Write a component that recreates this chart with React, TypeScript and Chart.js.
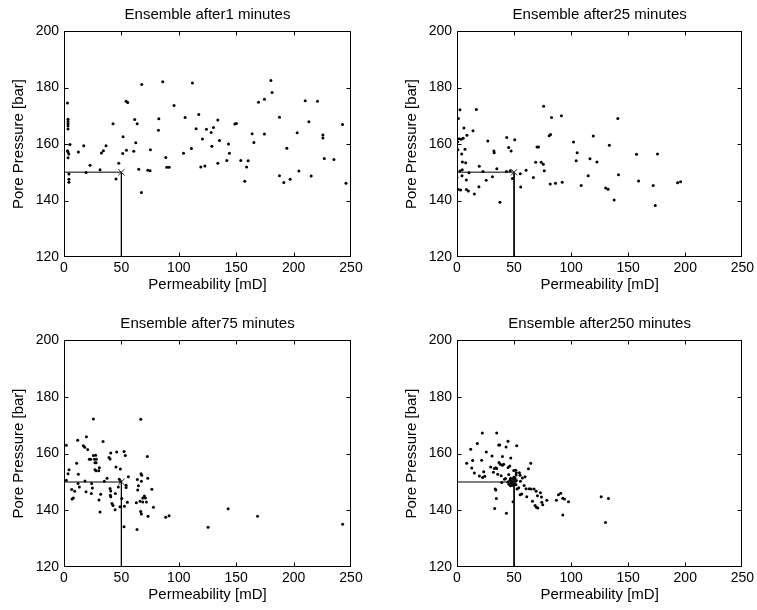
import React, { useEffect, useRef } from "react";
import { Chart, registerables } from "chart.js";

Chart.register(...registerables);

const FONT = "'Liberation Sans', Arial, Helvetica, sans-serif";

// Axis ticks
const xTicks = [0, 50, 100, 150, 200, 250];
const yTicks = [120, 140, 160, 180, 200];

// Panel titles
const panelTitles = [
  "Ensemble after1 minutes",
  "Ensemble after25 minutes",
  "Ensemble after75 minutes",
  "Ensemble after250 minutes",
];

// True (reference) values marked with the cross
const truePerm = 50;
const truePres = 150;

// Ensemble after 1 minute
const perm1 = [3.0, 3.5, 3.5, 3.5, 3.5, 3.5, 5.2, 3.0, 3.5, 4.2,
  3.5, 4.3, 4.3, 4.3, 12.5, 17.2, 19.2, 22.7, 31.4, 32.6,
  34.3, 36.6, 42.7, 45.3, 47.7, 51.2, 51.5, 54.4, 54.1, 55.5,
  60.8, 61.6, 62.5, 63.7, 65.1, 67.4, 67.7, 73.0, 75.0, 75.3,
  82.3, 82.6, 86.0, 88.7, 89.5, 91.6, 95.9, 104.1, 105.5, 111.0,
  111.9, 115.1, 117.4, 119.2, 120.6, 122.7, 124.1, 130.2, 128.2, 128.8,
  134.0, 135.4, 134.0, 141.8, 143.3, 144.1, 148.8, 150.2, 154.0, 157.5,
  159.0, 160.4, 163.9, 165.4, 169.4, 174.6, 174.6, 180.2, 181.3, 187.7,
  187.7, 191.5, 194.1, 197.0, 203.1, 204.6, 210.1, 213.3, 215.3, 220.8,
  225.5, 225.5, 226.7, 235.1, 242.6, 245.6];
const pres1 = [174.5, 168.8, 168.0, 167.2, 166.4, 165.3, 159.8, 157.6, 157.2, 156.5,
  155.1, 149.4, 147.5, 146.5, 157.2, 159.4, 149.9, 152.5, 150.9, 156.8,
  157.6, 159.4, 167.2, 147.6, 153.2, 156.6, 162.6, 157.8, 175.1, 174.7,
  157.4, 168.7, 160.4, 167.2, 151.1, 142.8, 181.1, 150.7, 150.5, 158.0,
  164.9, 168.9, 182.0, 155.2, 151.8, 151.8, 173.6, 156.7, 169.4, 158.4,
  181.6, 165.4, 170.4, 151.9, 161.8, 152.2, 165.2, 165.8, 164.1, 159.2,
  168.5, 161.2, 153.2, 154.2, 160.0, 156.7, 167.1, 167.3, 154.2, 146.8,
  151.9, 154.1, 163.6, 160.5, 174.8, 175.8, 163.5, 182.5, 178.2, 169.5,
  148.8, 146.4, 158.5, 147.5, 164.0, 150.4, 175.3, 167.9, 148.7, 175.1,
  163.2, 162.1, 154.9, 154.5, 166.9, 146.1];

// Ensemble after 25 minutes
const perm25 = [2.6, 16.9, 1.2, 6.1, 14.0, 8.7, 1.9, 3.7, 5.4, 0.8,
  7.0, 4.1, 27.0, 43.6, 50.6, 45.3, 47.4, 32.3, 32.6, 4.7,
  7.6, 19.5, 34.9, 2.6, 4.6, 10.5, 22.7, 0.0, 4.4, 8.2,
  25.6, 31.1, 43.3, 46.6, 48.6, 55.5, 60.5, 66.9, 68.9, 70.1,
  71.4, 73.8, 75.6, 76.5, 80.8, 82.0, 75.9, 82.8, 91.5, 81.7,
  86.3, 92.2, 1.2, 3.2, 9.9, 8.2, 15.2, 19.2, 55.8, 37.6,
  102.1, 105.3, 104.4, 108.8, 115.0, 116.5, 119.4, 122.6, 130.3, 132.4,
  133.5, 137.7, 141.5, 140.9, 157.3, 159.1, 171.9, 173.7, 175.7, 193.3,
  195.9, 0.6];
const pres25 = [172.1, 172.2, 169.0, 165.7, 164.7, 163.1, 161.9, 161.7, 162.0, 158.0,
  158.1, 156.5, 161.1, 162.3, 161.5, 158.8, 157.5, 157.5, 156.9, 153.6,
  153.4, 152.1, 151.2, 150.4, 150.9, 149.8, 150.3, 148.1, 148.8, 147.3,
  147.2, 148.4, 150.3, 150.5, 147.8, 149.5, 150.7, 148.1, 153.5, 158.9,
  158.9, 153.5, 152.8, 150.5, 162.9, 163.4, 173.4, 169.4, 170.0, 145.8,
  146.1, 146.5, 143.9, 143.7, 143.4, 143.9, 142.3, 144.9, 144.8, 139.4,
  160.7, 156.9, 154.1, 145.3, 148.8, 154.8, 162.8, 153.6, 144.4, 144.0,
  159.6, 140.2, 149.1, 169.0, 156.4, 146.9, 145.3, 138.2, 156.5, 146.3,
  146.6, 160.8];

// Ensemble after 75 minutes
const perm75 = [2.0, 4.4, 3.5, 2.0, 11.9, 19.5, 16.8, 18.0, 20.6, 25.6,
  34.0, 11.0, 12.5, 22.1, 23.2, 25.6, 27.6, 26.5, 28.2, 27.0,
  28.0, 27.0, 27.9, 30.8, 30.3, 35.1, 37.5, 39.2, 40.1, 40.7,
  45.9, 52.3, 53.4, 45.3, 49.1, 56.1, 66.9, 72.6, 67.1, 67.7,
  67.4, 63.9, 73.0, 76.5, 6.7, 9.3, 8.1, 7.0, 12.2, 13.4,
  18.3, 19.2, 24.1, 24.7, 23.8, 32.0, 30.5, 31.4, 40.1, 40.7,
  40.4, 40.7, 41.8, 42.7, 44.5, 44.7, 48.2, 49.4, 47.3, 48.8,
  50.3, 52.6, 52.3, 54.1, 54.1, 55.2, 63.6, 64.2, 64.8, 63.0,
  68.6, 70.0, 70.9, 66.3, 68.6, 66.8, 67.4, 71.8, 73.2, 77.9,
  88.6, 91.5, 125.5, 143.0, 168.6, 242.7];
const pres75 = [162.9, 154.3, 152.9, 150.6, 164.7, 165.9, 162.7, 162.2, 161.4, 172.2,
  164.2, 156.6, 152.7, 158.0, 158.0, 159.3, 159.4, 158.0, 158.0, 156.7,
  156.7, 154.3, 153.9, 155.0, 153.9, 150.2, 151.3, 158.6, 158.1, 160.2,
  160.5, 160.7, 159.3, 155.2, 154.5, 151.8, 172.1, 158.9, 152.9, 152.3,
  150.2, 150.8, 151.3, 147.4, 147.3, 146.7, 144.3, 144.0, 149.4, 148.2,
  150.3, 146.5, 149.4, 147.8, 145.9, 145.6, 143.6, 139.4, 147.7, 146.8,
  145.3, 144.8, 142.4, 141.7, 140.2, 145.9, 150.9, 150.1, 148.2, 141.2,
  144.1, 141.4, 134.2, 148.8, 148.0, 142.8, 133.2, 147.1, 148.6, 142.6,
  144.3, 145.0, 144.3, 143.2, 142.9, 139.6, 138.7, 142.9, 137.9, 141.1,
  137.5, 138.1, 134.0, 140.5, 137.9, 135.1];

// Ensemble after 250 minutes
const perm250 = [8.5, 12.0, 13.7, 12.9, 15.2, 17.8, 19.6, 21.6, 22.2, 23.4,
  22.4, 24.3, 25.7, 29.5, 30.7, 31.9, 32.7, 33.9, 34.8, 33.5,
  34.0, 34.5, 33.0, 34.8, 36.5, 37.4, 36.8, 38.0, 39.8, 39.2,
  39.8, 40.9, 43.0, 44.7, 45.3, 43.3, 46.2, 47.1, 49.1, 52.3,
  51.5, 52.0, 51.8, 54.7, 55.3, 55.6, 57.3, 59.6, 62.6, 64.6,
  52.6, 54.1, 55.3, 56.7, 58.8, 60.5, 63.2, 64.9, 67.5, 61.1,
  66.1, 69.3, 70.5, 73.1, 74.0, 68.4, 69.6, 70.8, 74.3, 75.1,
  78.7, 87.1, 88.9, 90.9, 92.7, 94.2, 97.7, 92.7, 126.3, 132.7,
  130.1, 35.7, 38.7, 41.6, 42.5, 44.8, 49.7, 44.5, 45.5, 46.3,
  47.0, 47.5, 48.1, 48.6, 49.0, 49.4, 50.2, 50.7, 51.2, 46.8,
  49.8, 51.6, 52.0, 50.9];
const pres250 = [156.6, 161.5, 157.5, 154.9, 153.1, 163.5, 152.1, 157.6, 167.2, 153.6,
  151.5, 152.0, 160.5, 155.2, 159.1, 153.4, 154.7, 155.0, 154.7, 147.5,
  147.1, 144.1, 140.6, 167.2, 163.0, 163.0, 156.8, 156.2, 158.9, 149.8,
  155.9, 156.2, 162.3, 164.3, 152.6, 138.9, 155.6, 158.4, 143.0, 162.7,
  154.1, 153.2, 152.4, 153.2, 152.3, 150.2, 151.4, 151.8, 154.6, 156.6,
  147.5, 147.9, 145.5, 145.7, 148.7, 147.6, 147.6, 147.5, 147.5, 144.8,
  143.2, 146.7, 145.1, 146.2, 144.7, 141.7, 141.1, 140.8, 142.8, 141.9,
  143.5, 143.5, 145.5, 146.0, 144.2, 144.0, 143.0, 138.3, 144.8, 144.1,
  135.7, 152.7, 152.2, 150.9, 151.2, 155.1, 154.0, 150.0, 149.2, 150.6,
  151.3, 149.6, 150.3, 148.8, 151.0, 149.8, 150.8, 149.3, 150.2, 148.6,
  151.6, 149.0, 150.5, 151.4];

const clamp = (v: number, lo: number, hi: number) => Math.min(hi, Math.max(lo, v));

const boxPlugin = {
  id: "matlabBox",
  afterDatasetsDraw(chart: any) {
    const { ctx, chartArea: a, scales } = chart;
    const xs = scales.x;
    const ys = scales.y;
    const L = Math.round(a.left) + 0.5;
    const R = Math.round(a.right) - 0.5;
    const T = Math.round(a.top) + 0.5;
    const B = Math.round(a.bottom) - 0.5;
    const tl = 4;
    ctx.save();
    ctx.strokeStyle = "#000";
    ctx.lineWidth = 1;
    ctx.strokeRect(L, T, R - L, B - T);
    ctx.beginPath();
    xTicks.forEach((v) => {
      const px = clamp(Math.round(xs.getPixelForValue(v)) + 0.5, L, R);
      ctx.moveTo(px, B);
      ctx.lineTo(px, B - tl);
      ctx.moveTo(px, T);
      ctx.lineTo(px, T + tl);
    });
    yTicks.forEach((v) => {
      const py = clamp(Math.round(ys.getPixelForValue(v)) + 0.5, T, B);
      ctx.moveTo(L, py);
      ctx.lineTo(L + tl, py);
      ctx.moveTo(R, py);
      ctx.lineTo(R - tl, py);
    });
    ctx.stroke();
    ctx.restore();
  },
};

type PanelProps = {
  left: number;
  top: number;
  width: number;
  height: number;
  padLeft: number;
  padRight: number;
  padBottom: number;
  title: string;
  perm: number[];
  pres: number[];
};

function Panel(p: PanelProps) {
  const ref = useRef<HTMLCanvasElement | null>(null);
  useEffect(() => {
    if (!ref.current) return;
    const yMin = yTicks[0];
    const chart = new Chart(ref.current, {
      type: "scatter",
      data: {
        datasets: [
          {
            data: [{ x: truePerm, y: truePres }],
            pointStyle: "crossRot",
            pointRadius: 4.5,
            pointBorderWidth: 1,
            borderColor: "#222",
            backgroundColor: "#222",
            showLine: false,
          } as any,
          {
            data: p.perm.map((v, i) => ({ x: v, y: p.pres[i] })),
            pointRadius: 1.5,
            pointBorderWidth: 0,
            backgroundColor: "#000",
            borderColor: "#000",
            showLine: false,
          },
          {
            data: [{ x: xTicks[0], y: truePres }, { x: truePerm, y: truePres }],
            showLine: true,
            borderColor: "#555",
            borderWidth: 1.5,
            pointRadius: 0,
          },
          {
            data: [{ x: truePerm, y: truePres }, { x: truePerm, y: yMin }],
            showLine: true,
            borderColor: "#000",
            borderWidth: 1,
            pointRadius: 0,
          },
        ],
      },
      options: {
        animation: false,
        responsive: false,
        devicePixelRatio: 1,
        events: [],
        layout: {
          padding: { left: p.padLeft, right: p.padRight, top: 0, bottom: p.padBottom },
        },
        plugins: {
          legend: { display: false },
          tooltip: { enabled: false },
          title: {
            display: true,
            text: p.title,
            fullSize: false,
            color: "#000",
            font: { family: FONT, size: 15, weight: "normal" },
            padding: { top: 5.8, bottom: 7.2 },
          },
        },
        scales: {
          x: {
            type: "linear",
            min: xTicks[0],
            max: xTicks[xTicks.length - 1],
            afterFit: (s: any) => {
              s.height = 40;
            },
            grid: { display: false, drawTicks: false },
            border: { display: false },
            ticks: {
              stepSize: 50,
              color: "#000",
              font: { family: FONT, size: 14 },
              padding: 3,
              maxRotation: 0,
              autoSkip: false,
            },
            title: {
              display: true,
              text: "Permeability [mD]",
              color: "#000",
              font: { family: FONT, size: 15 },
              padding: { top: 0, bottom: 3.6 },
            },
          },
          y: {
            type: "linear",
            min: yTicks[0],
            max: yTicks[yTicks.length - 1],
            afterFit: (s: any) => {
              s.width = 64;
            },
            grid: { display: false, drawTicks: false },
            border: { display: false },
            ticks: {
              stepSize: 20,
              color: "#000",
              font: { family: FONT, size: 14 },
              padding: 5,
              autoSkip: false,
            },
            title: {
              display: true,
              text: "Pore Pressure [bar]",
              color: "#000",
              font: { family: FONT, size: 15 },
              padding: { top: 10, bottom: 0 },
            },
          },
        },
      } as any,
      plugins: [boxPlugin],
    });
    return () => chart.destroy();
  }, []);
  return (
    <canvas
      ref={ref}
      width={p.width}
      height={p.height}
      style={{ position: "absolute", left: p.left, top: p.top, width: p.width, height: p.height }}
    />
  );
}

export default function App() {
  return (
    <div
      style={{
        position: "absolute",
        left: 0,
        top: 0,
        width: 757,
        height: 610,
        background: "#fff",
        overflow: "hidden",
      }}
    >
      <Panel left={0} top={0} width={378} height={305} padLeft={0} padRight={27} padBottom={8} title={panelTitles[0]} perm={perm1} pres={pres1} />
      <Panel left={378} top={0} width={379} height={305} padLeft={15} padRight={13} padBottom={8} title={panelTitles[1]} perm={perm25} pres={pres25} />
      <Panel left={0} top={309} width={378} height={301} padLeft={0} padRight={27} padBottom={3} title={panelTitles[2]} perm={perm75} pres={pres75} />
      <Panel left={378} top={309} width={379} height={301} padLeft={15} padRight={13} padBottom={3} title={panelTitles[3]} perm={perm250} pres={pres250} />
    </div>
  );
}
